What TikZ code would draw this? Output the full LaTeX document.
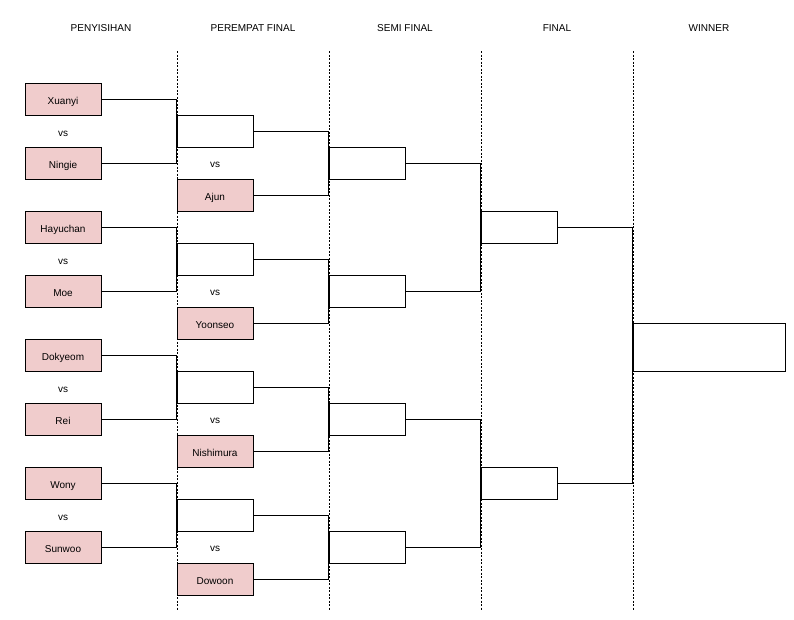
\documentclass[tikz,border=0pt]{standalone}
\usepackage{fontspec}
\setmainfont{Liberation Sans}
\definecolor{boxpink}{HTML}{F0CCCC}
\begin{document}
\begin{tikzpicture}[x=1pt,y=-1pt,
  txt/.style={font=\fontsize{10pt}{12pt}\selectfont,text height=10.6pt,text depth=0pt},
  player/.style={txt,draw=black,line width=1pt,fill=boxpink,minimum width=76pt,minimum height=32pt,inner sep=0pt},
  slot/.style={draw=black,line width=1pt,fill=white,minimum width=76pt,minimum height=32pt,inner sep=0pt},
  vslabel/.style={txt,inner sep=0pt},
  header/.style={txt,inner sep=0pt},
  link/.style={draw=black,line width=1pt},
  sep/.style={draw=black,line width=1pt,dash pattern=on 2pt off 1.5pt}]
\useasboundingbox (0,0) rectangle (794,619);
% headers
\node[header] (h1) at (101,26) {PENYISIHAN};
\node[header] (h2) at (253,26) {PEREMPAT FINAL};
\node[header] (h3) at (405,26) {SEMI FINAL};
\node[header] (h4) at (557,26) {FINAL};
\node[header] (h5) at (709,26) {WINNER};
% separators
\foreach \x/\n in {177/a,329/b,481/c,633/d}{
  \coordinate (t\n) at (\x,51);
  \coordinate (b\n) at (\x,610);
  \draw[sep] (t\n) -- (b\n);
}
% round 1
\node[player] (xuanyi) at (63,99) {Xuanyi};
\node[player] (ningie) at (63,163) {Ningie};
\node[player] (hayuchan) at (63,227) {Hayuchan};
\node[player] (moe) at (63,291) {Moe};
\node[player] (dokyeom) at (63,355) {Dokyeom};
\node[player] (rei) at (63,419) {Rei};
\node[player] (wony) at (63,483) {Wony};
\node[player] (sunwoo) at (63,547) {Sunwoo};
\node[vslabel] (vs1) at (63,131) {vs};
\node[vslabel] (vs2) at (63,259) {vs};
\node[vslabel] (vs3) at (63,387) {vs};
\node[vslabel] (vs4) at (63,515) {vs};
% quarter final
\node[slot] (w1) at (215,131) {};
\node[slot] (w2) at (215,259) {};
\node[slot] (w3) at (215,387) {};
\node[slot] (w4) at (215,515) {};
\node[player] (ajun) at (215,195) {Ajun};
\node[player] (yoonseo) at (215,323) {Yoonseo};
\node[player] (nishimura) at (215,451) {Nishimura};
\node[player] (dowoon) at (215,579) {Dowoon};
\node[vslabel] (vs5) at (215,162.5) {vs};
\node[vslabel] (vs6) at (215,290.5) {vs};
\node[vslabel] (vs7) at (215,418.5) {vs};
\node[vslabel] (vs8) at (215,546.5) {vs};
% semi final
\node[slot] (s1) at (367,163) {};
\node[slot] (s2) at (367,291) {};
\node[slot] (s3) at (367,419) {};
\node[slot] (s4) at (367,547) {};
% final
\node[slot] (f1) at (519,227) {};
\node[slot] (f2) at (519,483) {};
% winner
\node[slot,minimum width=152pt,minimum height=48pt] (win) at (709,347) {};
% brackets round 1
\draw[link] (xuanyi.east) -- (xuanyi.east -| w1.west) |- (ningie.east);
\draw[link] (hayuchan.east) -- (hayuchan.east -| w2.west) |- (moe.east);
\draw[link] (dokyeom.east) -- (dokyeom.east -| w3.west) |- (rei.east);
\draw[link] (wony.east) -- (wony.east -| w4.west) |- (sunwoo.east);
% brackets quarter
\draw[link] (w1.east) -- (w1.east -| s1.west) |- (ajun.east);
\draw[link] (w2.east) -- (w2.east -| s2.west) |- (yoonseo.east);
\draw[link] (w3.east) -- (w3.east -| s3.west) |- (nishimura.east);
\draw[link] (w4.east) -- (w4.east -| s4.west) |- (dowoon.east);
% brackets semi
\draw[link] (s1.east) -- (s1.east -| f1.west) |- (s2.east);
\draw[link] (s3.east) -- (s3.east -| f2.west) |- (s4.east);
% bracket final
\draw[link] (f1.east) -- (f1.east -| win.west) |- (f2.east);
\end{tikzpicture}
\end{document}
